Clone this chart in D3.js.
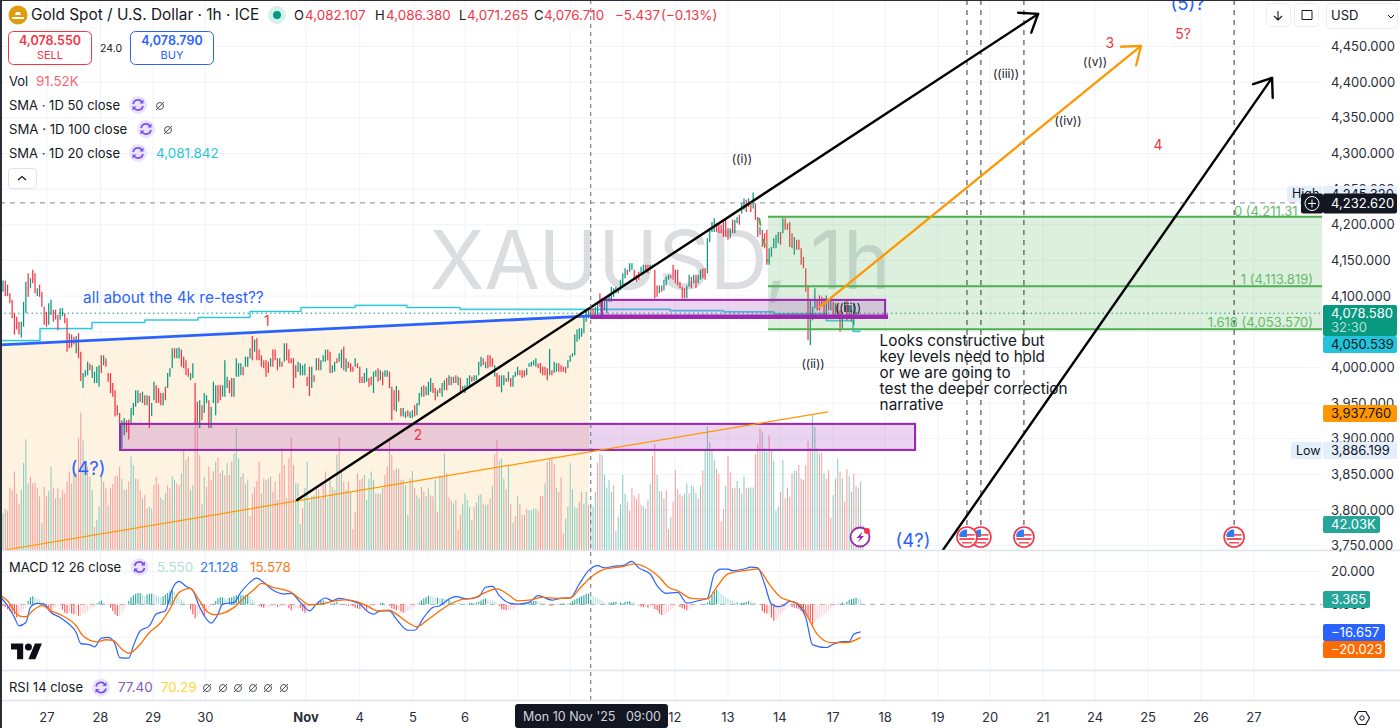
<!DOCTYPE html>
<html><head><meta charset="utf-8">
<script src="https://cdnjs.cloudflare.com/ajax/libs/d3/7.8.5/d3.min.js"></script>
<style>html,body{margin:0;padding:0;background:#fff;overflow:hidden}svg{display:block}text{font-family:Inter,"Noto Sans",sans-serif}</style>
</head><body><svg id="c" width="1400" height="728"></svg>
<script>
const candleHigh=[
4122,4122,4116,4104,4095,4076,4071,4064,4064,4092,
4120,4132,4125,4137,4132,4111,4116,4106,4085,4078,
4090,4095,4081,4081,4074,4083,4083,4076,4069,4048,
4046,4043,4044,4048,4022,3992,3996,4008,4005,4003,
3994,4001,4003,4017,4017,4013,3992,3992,3978,3968,
3947,3936,3926,3929,3926,3927,3943,3950,3968,3968,
3964,3966,3961,3961,3960,3950,3980,3975,3971,3964,
3964,3973,3992,3999,4027,4027,4027,4028,4025,4015,
4010,3999,3992,4006,3978,3952,3954,3947,3964,3961,
3954,3945,3980,3975,3975,3975,3975,4010,3987,3982,
3985,3985,4013,4006,4006,4001,4015,4015,4027,4044,
4039,4041,4025,4017,4010,4010,4008,4013,4025,4025,
4013,4013,4008,4034,4034,4025,4013,4013,4003,4008,
4006,4003,4005,3987,4001,4001,3989,4013,4013,4010,
4017,4025,4025,4022,4003,4008,4013,4020,4025,4029,
4013,4008,4006,4001,4013,4006,4001,3987,3992,3999,
3985,3987,3994,3996,3999,3996,3994,3996,3996,3994,
3973,3968,3974,3968,3943,3943,3938,3940,3938,3940,
3947,3950,3964,3973,3975,3973,3980,3985,3978,3971,
3968,3971,3978,3982,3985,3989,3987,3987,3989,3987,
3985,3974,3975,3985,3989,3987,3989,3989,4008,4015,
4013,4008,4017,4017,4013,4003,3992,3989,3989,3989,
3985,3994,3985,3989,3994,4001,3996,3996,3996,3999,
4006,4008,4010,4013,4006,4006,4001,4001,3999,4026,
3996,4008,4006,4006,4003,4001,4001,4010,4017,4020,
4046,4053,4055,4055,4071,4081,4083,4085,4083,4085,
4092,4104,4097,4094,4097,4101,4113,4111,4113,4111,
4123,4132,4139,4137,4146,4146,4137,4130,4134,4141,
4144,4144,4144,4144,4144,4137,4115,4115,4115,4123,
4127,4130,4130,4144,4137,4137,4120,4113,4111,4115,
4130,4127,4130,4130,4130,4137,4139,4139,4181,4195,
4204,4209,4202,4202,4200,4207,4207,4195,4195,4207,
4207,4211,4214,4230,4237,4235,4237,4230,4245.3,4230,
4211,4197,4193,4188,4193,4167,4169,4181,4186,4190,
4190,4209,4209,4202,4204,4188,4183,4179,4179,4167,
4155,4139,4115,4094,4085,4111,4094,4101,4099,4097,
4101,4094,4099,4092,4090,4087,4080,4076,4092,4094,
4087,4080,4090,4078];
const candleLow=[
4106,4100,4100,4090,4069,4046,4053,4046,4042,4057,
4076,4099,4111,4118,4104,4100,4099,4085,4060,4057,
4060,4074,4064,4067,4052,4067,4072,4062,4022,4027,
4028,4032,4020,4013,3981,3971,3987,3989,3996,3985,
3978,3978,3973,3992,4003,4001,3980,3964,3959,3931,
3933,3895,3886.2,3905,3909,3899,3922,3933,3945,3950,
3952,3950,3947,3947,3915,3932,3954,3950,3950,3947,
3947,3954,3971,3987,3999,4013,4013,4013,4001,3999,
3989,3987,3982,3985,3920,3921,3915,3926,3936,3950,
3915,3915,3950,3933,3950,3954,3959,3959,3971,3964,
3959,3959,3987,3987,3989,3989,4001,4001,4013,4010,
4022,4010,4010,4001,3999,3987,3992,4001,4001,4010,
3996,4001,4001,4008,4010,4006,4006,3971,3985,3994,
3989,3989,3989,3974,3960,3971,3980,3996,3996,3996,
4008,4008,4010,3992,3992,3994,4006,4008,3999,3996,
3994,3999,3994,3994,4001,3999,3978,3978,3978,3980,
3973,3975,3964,3987,3980,3982,3975,3987,3987,3971,
3926,3940,3938,3952,3931,3931,3929,3931,3929,3929,
3931,3933,3947,3959,3959,3961,3961,3966,3964,3954,
3959,3964,3959,3968,3968,3975,3975,3978,3978,3975,
3966,3966,3964,3971,3973,3980,3981,3982,3989,4001,
4003,3999,3999,4001,4001,3987,3973,3973,3965,3975,
3980,3980,3973,3973,3987,3989,3989,3985,3987,3989,
4001,4001,4003,4001,3999,3992,3989,3989,3982,3989,
3989,3992,3994,3994,3994,3994,3992,3999,4008,4015,
4017,4036,4039,4043,4048,4064,4069,4074,4074,4074,
4071,4085,4073,4080,4076,4092,4092,4099,4104,4104,
4108,4113,4125,4130,4134,4137,4123,4120,4123,4130,
4134,4134,4132,4137,4139,4097,4099,4104,4106,4108,
4115,4123,4125,4123,4118,4115,4111,4097,4097,4097,
4113,4111,4118,4111,4118,4123,4125,4123,4132,4176,
4190,4190,4190,4188,4188,4183,4183,4179,4181,4188,
4188,4202,4200,4216,4221,4218,4225,4218,4223,4207,
4183,4186,4169,4167,4144,4144,4155,4167,4167,4174,
4172,4188,4193,4193,4169,4167,4158,4165,4165,4144,
4139,4106,4038,4031,4066,4083,4080,4080,4087,4073,
4069,4080,4080,4073,4073,4069,4050,4055,4078,4066,
4069,4064,4059,4073];
const candleDir=[
"GRRRRRRRGG","GRGRRGRRRR","GGRRRGGRRR","RRGRRGGGRG","GGGRGRRRRR",
"RRGGRRGGGG","RGRGRGGRRR","GRGGGRGGRR","RRGGRRGRGG","RGGGRRGGGR",
"RGGGGRGGGR","GRRRRRRGRR","RGRGRRRRRG","GGGRRGRGRG","GGRRGGRGGR",
"GRRRGRRRGG","RRGGRGRGGR","RRGRRGGRGG","RGGGRGGGRR","GRGGRGRGRG",
"RGGGGRGGGG","RGRRRGRRGG","RGRGGGRRRG","GGGGRRRRRG","RGGRRRRGGG",
"GGGGGGGRRG","GRRGGGGGGG","GGGRGGRRRG","GRRGGRRGRG","GGRRRRRRRG",
"GRGRGGRRGG","GGRRRRRRGR","GGRGGRGRGR","RGRRRGGGGG","RGRRRRGRRR",
"RRRGGGRRRR","GRGRGRRGGR","GRGG"].join("");
const volumes=[
62,69,66,105,101,132,95,78,101,146,186,112,123,112,113,104,90,45,106,90,
99,140,105,87,104,88,101,95,115,132,112,146,129,188,231,184,146,140,123,101,
39,50,73,124,115,104,76,104,111,124,124,140,119,101,102,115,157,143,120,120,
101,87,92,70,73,70,109,123,111,88,84,96,109,104,124,118,112,109,129,168,
151,157,101,109,220,230,160,78,123,106,140,118,132,148,155,129,134,126,146,
126,148,162,204,154,123,129,112,118,57,95,106,116,148,95,120,118,120,123,
98,115,84,129,171,143,87,154,189,143,112,112,44,70,104,148,81,90,92,
104,101,87,109,132,87,120,106,101,160,190,134,115,101,115,98,35,64,129,118,
120,126,84,120,132,118,95,95,95,104,126,141,188,160,134,137,137,118,118,109,
59,120,133,104,92,87,106,98,90,104,92,90,118,64,125,123,162,129,
88,83,78,84,34,59,77,95,84,72,50,72,80,92,94,78,76,77,87,108,
161,185,151,154,120,102,141,77,45,57,91,77,59,59,69,67,67,70,70,66,
91,91,112,148,154,156,144,105,98,122,28,53,73,146,102,72,70,81,98,78,
98,76,73,73,98,146,162,160,126,105,118,98,109,32,56,77,126,94,81,66,
104,92,85,95,76,73,70,85,111,158,178,126,99,98,87,100,35,56,81,134,
102,94,91,95,112,95,108,106,96,87,108,134,169,208,181,169,152,136,128,48,
69,108,158,131,104,105,116,104,95,124,104,105,105,105,161,179,204,199,172,165,
193,167,150,66,73,98,151,87,104,90,129,133,133,143,120,118,143,183,171,227,
207,171,162,164,129,120,134,54,92,120,154,132,120,81,136,124,98,128,108,105,
115,42.03];
const volumeDir=[
"GRRRRRRRGG","GGRRRRRGRR","GGRGRGRRRR","RGRRRGGRGG","RGGGRRGRRR",
"RRGRGRGGGR","RGRRGGRRRG","RGRRGGRRGR","GRGGRRRGGR","RRRGRRGRG",
"RRGGGRGRG","RRRRRGRGRG","RRRRRRGRR","RGGGRGGRGG","GRGRRGGRGG",
"RGRGRGRRRR","RGGGGGRGRG","RRRRRGRRGG","GRGRGGRRGG","RRGRGRGR",
"RGGRRRGGGG","GRGGGRGGRG","RRGGGRGRGR","GRRGRGGGGR","RRGRGRRGRR",
"RGGGGGGRRG","GRGGGRRGGG","GGRGGGGGRR","RRRRRGGRGR","RGGRGRRGRR",
"RRRGGRGGGR","GRGGGGGRRR","RGRRGRGRGG","RGGGRRRGGG","RGGGGRGRRR",
"RGGRRRRRRG","GGRRGRRRGR","GRGRRGRRGR","GG"].join("");
const macdIndex=[-1,2,5,7,10,12,15,18,21,25,28,32,34,38,40,43,46,49,51,55,57,60,64,67,71,74,77,80,83,86,88,91,94,96,101,104,108,111,114,118,123,126,130,134,137,141,144,147,152,156,159,162,165,169,172,177,180,184,188,191,195,198,203,208,211,214,217,222,225,230,234,240,244,248,252,256,260,263,267,271,275,278,283,286,290,295,299,304,308,311,314,317,319,324,327,330,333,336,339,341,344,348,351,354,360,363,367,370,372,375];
const macdValues=[4.3,-0.8,-7.9,-13,-11,-1.8,0.6,0.2,-4.9,-7.9,-11,-17.1,-23.8,-24.6,-25.8,-20.5,-20.1,-24.2,-32.3,-32.7,-25.2,-16.1,-13,-5.9,-3.9,9.4,14,11,8.3,-1.8,-6.9,-11.4,-5.9,0.2,1.2,7.3,13.4,16,13.4,8.7,6.3,6.7,1.2,-3.9,0.2,3.9,2.2,3.7,2.2,0.2,-3.9,-5.9,-3.9,-3.9,-9,-15.7,-15.7,-7.9,-1.8,-0.8,3.3,4.7,3.3,4.7,10.4,11,5.3,0.6,0.2,1.2,5.3,2.6,3.7,3.9,12.4,20.5,23.6,22.2,23.2,23.6,26.2,22.2,18.5,11.4,6.7,7.3,0.8,2.2,3.7,18.5,21.5,21.5,20.5,21.5,22.6,22.2,12.4,0.2,-1.4,-0.8,1.8,-0.8,-7.9,-24.6,-26.2,-24.2,-22.6,-22.6,-18.1,-16.66];
const signalIndex=[-1,2,5,7,10,13,17,21,26,32,35,41,45,48,52,55,60,64,69,73,77,82,85,89,92,96,101,105,110,113,118,126,130,134,139,145,150,155,159,164,169,172,177,181,185,191,195,200,206,210,216,221,225,230,236,242,248,252,257,262,271,276,283,287,291,295,301,308,312,317,324,330,335,340,344,349,352,356,362,369,375];
const signalValues=[5.3,2.2,-3.9,-6.9,-7.5,-3.9,-0.8,-3.9,-6.9,-13,-19.1,-22.8,-21.5,-21.8,-27.2,-29.7,-24.2,-17.1,-11,-2.8,7.3,9.8,4.3,-3.9,-6.3,-5.5,-1.8,3.3,9.3,12.8,10.4,7.3,3.3,-0.2,0.2,2.2,2.8,1.6,-0.8,-3.9,-3.5,-5.9,-11,-13.6,-10,-3.9,-0.2,2.8,3.9,6.7,9.4,5.9,2.2,2.6,4.3,3.7,3.9,9.4,16.5,20.9,23,24.6,20.9,16.5,10.4,8.3,3.7,3.3,10.4,18.5,20.5,21.5,12.4,4.3,2.2,-0.8,-7.9,-18.1,-23.2,-23.2,-20.02];
const histValues=[
-1,-1.6,-3,-4,-5,-6,-8,-6,-5,-3,-2,2,4.4,5,4.4,3.6,3,1,-0.6,-2,-3,-3.6,-3,-2,-1,-0.6,-3,-5,-5.6,-5,-5.6,-6,-6,-7,-7,-5.6,-5,-4.4,-3,-2.4,-1.6,0.6,1.6,2.4,1,0.6,-0.4,-2,-4,-6,-7,-7,-5,-3,-1,2,4.4,5.6,6.4,7,7,5.6,5,6,6.4,6.6,6,5.6,5,4.4,5,6,7,8,8.6,7.6,6.4,5,3,1.6,0.4,-0.4,-3,-6,-8.4,-7,-6,-6,-7,-5.6,-3,-1,0.4,2,3.6,4.4,4.4,4,3.6,4,4.4,5,5.6,5.6,5.6,5.6,5.6,6,5,3,1.6,0.4,-1,-1.6,-2,-1.6,-1.6,-1.6,-1.2,-1.2,-1.6,-1.6,-1,-1,-1,-2.4,-3.6,-2.4,-2,-2,-2.4,-4,-5,-2.4,-1.2,-0.8,-0.4,0.6,1.6,2,2.4,2,1.6,1,0.8,0.8,1.6,1,0.4,-0.4,-0.6,-1,-0.8,-1.2,-2,-2.4,-2.8,-2.4,-2.4,-3.2,-2.8,-1.6,-1.2,-0.8,-0.4,0.6,1,0.6,0.2,-0.8,-2.4,-3,-3.6,-3.2,-4.4,-5,-5,-4,-3.2,-2.4,-1.6,-0.6,1.2,2.4,3.6,4.4,5.2,5,4.4,4,4,3.6,3.6,3.4,3,
3,2,1.6,1.2,1,0.8,0.4,0.2,0.2,1,1,0.8,1.2,1.6,2.4,3.2,3.6,3.2,2.8,2.4,1.6,0.6,-1.2,-2.8,-3.2,-3.6,-3.6,-3.2,-2.8,-2,-1.2,-0.4,0.4,0.6,0.8,1,1.6,2,2,1.6,1.2,0.8,0.4,-0.2,-0.8,-1,-0.4,0.2,0.4,0.6,0.6,0.4,0.4,0.8,2,2.8,3.6,4.4,5,5.6,6.4,6.6,5.6,5,4.4,3.6,3,2,1,0.6,1,1.2,1.4,1.6,0.6,1,0.8,1.4,1.6,2,1.8,1.2,0.2,-0.6,-1.4,-1.8,-1.6,-2,-1.6,-1.6,-2.8,-3.6,-5.6,-6.4,-6.4,-5.6,-4.4,-3.2,-2,-1,-0.6,-1.6,-2.4,-2.8,-3.6,-2.8,-2,-1.4,-1,-0.6,-0.4,-0.2,0.4,1,2.4,5.6,8,9,7.6,6.4,5.6,4.4,3.6,2.8,2,1.2,1.2,0.6,1,1.2,1.4,2,1.6,1.2,1,0.6,-0.4,-4,-5,-5.6,-5.6,-8,-10,-9.6,-7.6,-6,-4.4,-3.2,-1.6,-0.6,-1.6,-2,-2.4,-2.8,-4,-5.6,-6,-7.6,-9.6,-12.4,-11,-9,-7.6,-7,-6,-5,-3.6,-2.4,-1.2,-0.4,0.2,0.6,1.2,0.4,1.6,2.8,3.2,3.6,4,3.6,3.4];
const smaIndex=[-2,16.2,38.9,62,85.3,108,130.3,154,176.6,199.8,291.7,315,337,360,371.7,375];
const smaValues=[4037.7,4054.5,4063,4066.5,4070,4078.4,4084,4087,4084,4081.5,4079.5,4078,4075,4065.5,4050.5,4050.5];
const priceTicks=[4450,4400,4350,4300,4250,4200,4150,4100,4050,4000,3950,3900,3850,3800,3750];
const priceLabelsHidden=[4050];
const macdTicks=[20,0,-20];
const dayTickIndex=[19.2,42.6,65.6,88.5,132.5,156,179.3,202,225.2,248,271,293.8,317,339.7,363,385.7,408.8,431.6,454.7,477.5,500.7,523.8,547];
const dayTickLabels=["27","28","29","30","Nov","4","5","6","","","","12","13","14","17","18","19","20","21","24","25","26","27"];
const fibLevels=[4211.31,4113.819,4053.57];
const fibNames=["0 (4,211.31","1 (4,113.819)","1.618 (4,053.570)"];
const eventIndex=[538.3,446.4,427.6,421.5];
const waveLabels=[["((i))",323.1,4292.4],["((ii))",354.2,4004.9],["((iii))",438.6,4411.6],["((iv))",465.7,4345.7],["((v))",477.5,4428.4],["((iii))",369.5,4083.4]];
const redLabels=[["1",115.4,4065.2],["2",181.5,3905],["3",484,4455],["5?",516,4467.7],["4",505,4312]];
const blueLabels=[["(4?)",37.2,3857.7],["(4?)",397.9,3756.7],["(5)?",518,4509.7]];
const noteLines=["Looks constructive but","key levels need to hold","or we are going to","test the deeper correction","narrative"];
const notePrices=[4037.2,4014.7,3992.3,3969.9,3947.4];
const lastPrice=4076;

const svg=d3.select("#c");
const x=d3.scaleLinear([0,547],[3,1254]);
const y=d3.scaleLinear([3750,4450],[545.7,46.5]);
const yVol=d3.scaleLinear([0,100],[550,490.5]);
const yM=d3.scaleLinear([-20,20],[637.3,571.5]);
const UP="#089981",DN="#f23645",INK="#131722",GRID="#f0f3fa",SEP="#e0e3eb";
const ALL=candleHigh.map((_,i)=>i);

const defs=svg.append("defs");
defs.append("clipPath").attr("id","main").append("rect").attr("x",0).attr("y",0).attr("width",1322).attr("height",550);
defs.append("clipPath").attr("id","pane").append("rect").attr("x",2).attr("y",550).attr("width",1320).attr("height",120);
svg.append("rect").attr("width",1400).attr("height",728).attr("fill","#fff");

// grid
const grid=svg.append("g");
dayTickIndex.forEach(d=>grid.append("line").attr("x1",x(d)).attr("x2",x(d)).attr("y1",0).attr("y2",700).attr("stroke",GRID));
priceTicks.forEach(p=>grid.append("line").attr("x1",0).attr("x2",1322).attr("y1",y(p)).attr("y2",y(p)).attr("stroke",GRID));
macdTicks.filter(d=>d).forEach(p=>grid.append("line").attr("x1",0).attr("x2",1322).attr("y1",yM(p)).attr("y2",yM(p)).attr("stroke",GRID));

const main=svg.append("g").attr("clip-path","url(#main)");
main.append("text").attr("x",x(186.5)).attr("y",y(4110)).attr("font-size",80.5).attr("fill","#dcdde0").text("XAUUSD, 1h");

// beige region below the blue trend line
const blueLine=[[-1.3,4031.6],[257.1,4072.2]];
main.append("path").attr("fill","#fef2e0").attr("d",d3.line().x(d=>x(d[0])).y(d=>y(d[1]))([blueLine[0],[256.2,4072.1],[256.2,3700],[-1.3,3700]])+"Z");

// volume
main.append("g").selectAll("line").data(volumes).join("line")
 .attr("x1",(d,i)=>x(i)).attr("x2",(d,i)=>x(i)).attr("y1",yVol(0)).attr("y2",d=>yVol(d))
 .attr("stroke",(d,i)=>volumeDir[i]==="G"?"#86cbbf":"#f99b9b").attr("stroke-width",1);

// SMA
const sma=d3.line().curve(d3.curveStepAfter).x((d,i)=>x(smaIndex[i])).y(d=>y(d));
main.append("path").attr("d",sma(smaValues)).attr("fill","none").attr("stroke","#26c6da").attr("stroke-width",2.2).attr("opacity",.4);
main.append("path").attr("d",sma(smaValues)).attr("fill","none").attr("stroke","#26c6da").attr("stroke-width",1);

// last price dotted
main.append("line").attr("x1",0).attr("x2",1322).attr("y1",y(lastPrice)).attr("y2",y(lastPrice)).attr("stroke",UP).attr("stroke-dasharray","1.5 3");

// candles
main.append("g").selectAll("line").data(ALL).join("line")
 .attr("x1",i=>x(i)).attr("x2",i=>x(i)).attr("y1",i=>y(candleHigh[i])).attr("y2",i=>y(candleLow[i]))
 .attr("stroke",i=>candleDir[i]==="G"?UP:DN).attr("stroke-width",1.25);

// fib
main.append("rect").attr("x",x(334.5)).attr("width",x(576.8)-x(334.5)).attr("y",y(fibLevels[0])).attr("height",y(fibLevels[2])-y(fibLevels[0])).attr("fill","rgba(76,175,80,.19)");
fibLevels.forEach(p=>main.append("line").attr("x1",x(334.5)).attr("x2",x(576.8)).attr("y1",y(p)).attr("y2",y(p)).attr("stroke","#4caf50").attr("stroke-width",2));
fibNames.forEach((t,i)=>main.append("text").attr("x",i?1313:1234).attr("y",y(fibLevels[i])-(i?7:-1)).attr("dy",i?".35em":"-.1em").attr("text-anchor",i?"end":"start").attr("font-size",13).attr("fill","#66bb6a").text(t));
main.append("line").attr("x1",x(330.6)).attr("x2",x(334.5)).attr("y1",y(4209.5)).attr("y2",y(4148)).attr("stroke","#4caf50").attr("stroke-width",2).attr("stroke-dasharray","8 13");

// purple zones
function zone(a,b,top,bot){main.append("rect").attr("x",x(a)).attr("width",x(b)-x(a)).attr("y",y(top)).attr("height",y(bot)-y(top)).attr("fill","rgba(156,39,176,.2)").attr("stroke","#9c27b0").attr("stroke-width",2.1);}
zone(51.2,398.8,3920.8,3884.3);
zone(261.7,385.7,4094.7,4071.2);
main.append("line").attr("x1",x(256.7)).attr("x2",x(387)).attr("y1",y(4071.2)).attr("y2",y(4071.2)).attr("stroke","#9c27b0").attr("stroke-width",4.5);

// thin orange
main.append("line").attr("x1",x(.9)).attr("x2",x(360.7)).attr("y1",y(3744)).attr("y2",y(3937.76)).attr("stroke","#ff9800").attr("stroke-width",1.2);
// blue trend line
main.append("line").attr("x1",x(blueLine[0][0])).attr("x2",x(blueLine[1][0])).attr("y1",y(blueLine[0][1])).attr("y2",y(blueLine[1][1])).attr("stroke","#2962ff").attr("stroke-width",2.8);

// verticals
eventIndex.forEach(d=>main.append("line").attr("x1",x(d)).attr("x2",x(d)).attr("y1",0).attr("y2",525).attr("stroke","#333").attr("stroke-dasharray","5 5"));

// arrows
function arrow(a,b,color,w){
 const x1=x(a[0]),y1=y(a[1]),x2=x(b[0]),y2=y(b[1]),t=Math.atan2(y2-y1,x2-x1),L=20;
 const g=main.append("g").attr("fill","none").attr("stroke",color).attr("stroke-width",w).attr("stroke-linecap","round").attr("stroke-linejoin","round");
 g.append("line").attr("x1",x1).attr("y1",y1).attr("x2",x2).attr("y2",y2);
 g.append("path").attr("d",`M${x2+L*Math.cos(t+2.5)},${y2+L*Math.sin(t+2.5)}L${x2},${y2}L${x2+L*Math.cos(t-2.5)},${y2+L*Math.sin(t-2.5)}`);
}
arrow([128.6,3814.2],[452.6,4495.7],"#000",2.4);
arrow([357.2,4084.8],[497.6,4450.8],"#ff9800",2.3);
arrow([411,3744],[554.9,4406],"#000",2.4);

// annotation text
waveLabels.forEach(d=>main.append("text").attr("x",x(d[1])).attr("y",y(d[2])).attr("dy",".35em").attr("text-anchor","middle").attr("font-size",12).attr("fill","#131722").text(d[0]));
redLabels.forEach(d=>main.append("text").attr("x",x(d[1])).attr("y",y(d[2])).attr("dy",".35em").attr("text-anchor","middle").attr("font-size",14).attr("fill","#f23645").text(d[0]));
blueLabels.forEach(d=>main.append("text").attr("x",x(d[1])).attr("y",y(d[2])).attr("dy",".35em").attr("text-anchor","middle").attr("font-size",18.5).attr("fill","#2962ff").text(d[0]));
main.append("text").attr("x",x(35)).attr("y",y(4097.5)).attr("dy",".35em").attr("font-size",15.4).attr("fill","#2962ff").text("all about the 4k re-test??");
noteLines.forEach((t,i)=>main.append("text").attr("x",x(383.3)).attr("y",y(notePrices[i])).attr("dy",".35em").attr("font-size",15.3).attr("fill","#131722").text(t));

// event icons
function flag(cx,cy){
 const g=svg.append("g").attr("transform",`translate(${cx},${cy})`);
 g.append("circle").attr("r",10).attr("fill","#fff").attr("stroke","#f23645").attr("stroke-width",1.6);
 g.append("path").attr("d","M-7.5,-3H7.5V-1.2H-7.5ZM-7.5,1H7.5V3H-7.5ZM-5,5H5V6.5H-5Z").attr("fill","#f7525f");
 g.append("path").attr("d","M-7.5,-1L-7.5,-3A7.6,7.6 0 0 1 0,-7.5V0H-7.5Z").attr("fill","#2e7cf0");
}
eventIndex.forEach(d=>flag(x(d),537));
const bolt=svg.append("g").attr("transform","translate(860,537)");
bolt.append("circle").attr("r",9.5).attr("fill","#fff").attr("stroke","#9c27b0").attr("stroke-width",1.8);
bolt.append("path").attr("d","M2.5,-5.5L-3.5,1H0L-2,5.5L4,-1H0.6Z").attr("fill","#9c27b0");
bolt.append("circle").attr("cx",7).attr("cy",-6).attr("r",3).attr("fill","#f23645");

// MACD pane
const pane=svg.append("g").attr("clip-path","url(#pane)");
pane.append("line").attr("x1",0).attr("x2",1322).attr("y1",yM(0)).attr("y2",yM(0)).attr("stroke","#a8abb4").attr("stroke-dasharray","5 5");
pane.append("g").selectAll("line").data(histValues).join("line")
 .attr("x1",(d,i)=>x(i)).attr("x2",(d,i)=>x(i)).attr("y1",yM(0)).attr("y2",d=>yM(d)).attr("stroke-width",1.1)
 .attr("stroke",(d,i)=>{const p=i?histValues[i-1]:0;return d>=0?(d>=p?"#26a69a":"#b2dfdb"):(d<p?"#ff5252":"#ffcdd2");});
const mLine=idx=>d3.line().curve(d3.curveMonotoneX).x((d,i)=>x(idx[i])).y(d=>yM(d));
pane.append("path").attr("d",mLine(macdIndex)(macdValues)).attr("fill","none").attr("stroke","#2962ff").attr("stroke-width",1.2);
pane.append("path").attr("d",mLine(signalIndex)(signalValues)).attr("fill","none").attr("stroke","#ff6d00").attr("stroke-width",1.3);

// tv logo
svg.append("path").attr("transform","translate(11,640) scale(.87)").attr("d","M14 22H7V11H0V4h14v18zM28 22h-8l7.5-18h8L28 22z").attr("fill","#0b0e14");
svg.append("circle").attr("cx",11+20*.87).attr("cy",640+8*.87).attr("r",3.5).attr("fill","#0b0e14");

// crosshair
svg.append("line").attr("x1",x(257)).attr("x2",x(257)).attr("y1",0).attr("y2",704).attr("stroke","#6a6d78").attr("stroke-dasharray","4 4");
svg.append("line").attr("x1",0).attr("x2",1322).attr("y1",y(4230.7)).attr("y2",y(4230.7)).attr("stroke","#6a6d78").attr("stroke-dasharray","5 5").attr("opacity",.8);

// separators
[[0,1400,550],[0,1400,670],[0,1400,700]].forEach(d=>svg.append("line").attr("x1",d[0]).attr("x2",d[1]).attr("y1",d[2]+.5).attr("y2",d[2]+.5).attr("stroke",SEP).attr("stroke-width",1.4));
svg.append("rect").attr("x",1322).attr("y",0).attr("width",78).attr("height",549).attr("fill","#fff");
svg.append("rect").attr("x",1322).attr("y",552).attr("width",78).attr("height",117).attr("fill","#fff");
svg.append("rect").attr("x",0).attr("y",0).attr("width",2).attr("height",728).attr("fill","#2a2e39");
svg.append("rect").attr("x",0).attr("y",0).attr("width",1400).attr("height",1).attr("fill","#2a2e39");

function T(t,px,py,o={}){return svg.append("text").attr("x",px).attr("y",py).attr("dy",".35em").attr("font-size",o.s||13).attr("fill",o.c||INK).attr("text-anchor",o.a||"start").attr("font-weight",o.w||400).text(t);}
// price axis
priceTicks.filter(p=>!priceLabelsHidden.includes(p)).forEach(p=>T(d3.format(",.3f")(p),1331,y(p),{s:13,c:"#2a2e39"}));
macdTicks.filter(p=>p>=0).forEach(p=>T(d3.format(".3f")(p),1331,yM(p),{s:13,c:"#2a2e39"}));
// day axis
dayTickLabels.forEach((t,i)=>{if(t)T(t,x(dayTickIndex[i]),717,{a:"middle",s:13,c:"#2a2e39",w:t==="Nov"?700:400});});

function box(px,py,w,h,c,txt,tc,fs){svg.append("rect").attr("x",px).attr("y",py).attr("width",w).attr("height",h).attr("rx",2).attr("fill",c);if(txt)T(txt,px+8,py+h/2,{s:fs||13,c:tc||"#fff"});}
box(1287,186,35,16,"#e3effd"); T("High",1292,194,{s:12.5});
box(1323,186,74,16,"#e3effd","4,245.320",INK);
box(1323,193.5,74,20,"#131722","4,232.620","#fff");
svg.append("rect").attr("x",1301).attr("y",193.5).attr("width",22).attr("height",20).attr("rx",2).attr("fill","#131722");
svg.append("circle").attr("cx",1312).attr("cy",203.5).attr("r",7).attr("fill","none").attr("stroke","#fff");
svg.append("path").attr("d","M1312,199.5V207.5M1308,203.5H1316").attr("stroke","#fff");
box(1323,305,74,31,UP);
T("4,078.580",1331,313,{c:"#fff"}); T("32:30",1331,327,{c:"#b2dfd6"});
box(1323,336,74,17,"#22c4dc","4,050.539","#0b1a20");
box(1323,405,74,17,"#ff9800","3,937.760","#1c1200");
box(1291,442,31,17,"#e3effd"); T("Low",1296,450.5,{s:12.5});
box(1323,442,74,17,"#e3effd","3,886.199",INK);
box(1323,516,57,17,"#26a69a","42.03K");
box(1323,591,47,17,"#26a69a","3.365");
box(1323,624,62,17,"#2962ff","\u221216.657");
box(1323,641,62,17,"#ff6d00","\u221220.023");
// time label
svg.append("rect").attr("x",515).attr("y",704).attr("width",153).attr("height",24).attr("rx",3).attr("fill","#131722");
T("Mon 10 Nov '25   09:00",523,717,{c:"#d1d4dc",s:12.5}).style("white-space","pre");
// hex settings
svg.append("path").attr("d",d3.range(6).map((i,k)=>(k?"L":"M")+(1362+7.5*Math.cos(i*Math.PI/3))+","+(718+7.5*Math.sin(i*Math.PI/3))).join("")+"Z").attr("fill","none").attr("stroke",INK).attr("stroke-width",1.2);
svg.append("circle").attr("cx",1362).attr("cy",718).attr("r",2.2).attr("fill","none").attr("stroke",INK);
// top right buttons
[[1266,24],[1294,24],[1326,71]].forEach(d=>svg.append("rect").attr("x",d[0]+.5).attr("y",3.5).attr("width",d[1]).attr("height",d[0]>1300?25:23).attr("rx",4).attr("fill","#fff").attr("stroke","#eceef3"));
svg.append("path").attr("d","M1278,11V20M1274,16L1278,20L1282,16").attr("fill","none").attr("stroke",INK).attr("stroke-width",1.1);
svg.append("path").attr("d","M1302,11.5V10.5H1312V11.5M1302,18V19.5H1312V18M1302,11.5V18M1312,11.5V18").attr("fill","none").attr("stroke",INK);
T("USD",1331,15.5,{s:13});
svg.append("path").attr("d","M1388,15L1391,18L1394,15").attr("fill","none").attr("stroke",INK);

// legend
svg.append("circle").attr("cx",18).attr("cy",15).attr("r",9.5).attr("fill","#e09c0c");
svg.append("path").attr("d","M12,19H24V17H12ZM15,15H21L20,12H16Z").attr("fill","#fff");
T("Gold Spot / U.S. Dollar \u00b7 1h \u00b7 ICE",31,15,{s:15.4});
svg.append("circle").attr("cx",277).attr("cy",15).attr("r",9).attr("fill","#d6f0ea");
svg.append("circle").attr("cx",277).attr("cy",15).attr("r",4).attr("fill",UP);
[["O",294],["H",375],["L",459],["C",534]].forEach(d=>T(d[0],d[1],15,{s:13}));
[["4,082.107",305],["4,086.380",386],["4,071.265",467],["4,076.710",544],["\u22125.437",615],["(\u22120.13%)",661]].forEach(d=>T(d[0],d[1],15,{s:13.4,c:DN}));
function tradeBox(px,c,v,l){svg.append("rect").attr("x",px+.5).attr("y",31.5).attr("width",83).attr("height",33).attr("rx",5).attr("fill","#fff").attr("stroke",c);
 T(v,px+42,41,{a:"middle",s:12.5,c,w:600});T(l,px+42,55,{a:"middle",s:11,c});}
tradeBox(8,"#f23645","4,078.550","SELL");tradeBox(130,"#2962ff","4,078.790","BUY");
T("24.0",100,48,{s:10.5});
T("Vol",9,81,{s:13});T("91.52K",36,81,{s:13.4,c:"#f7666f"});
function loop(cx,cy){svg.append("circle").attr("cx",cx).attr("cy",cy).attr("r",9).attr("fill","#e9e4fb");
 svg.append("path").attr("d",`M${cx-5},${cy-1}A5,5 0 0 1 ${cx+4},${cy-3}M${cx+5},${cy+1}A5,5 0 0 1 ${cx-4},${cy+3}`).attr("fill","none").attr("stroke","#7a4df0").attr("stroke-width",1.6);
 svg.append("path").attr("d",`M${cx+5.5},${cy-5.5}V${cy-1.5}H${cx+1.5}ZM${cx-5.5},${cy+5.5}V${cy+1.5}H${cx-1.5}Z`).attr("fill","#7a4df0");}
function slashed(cx,cy){svg.append("circle").attr("cx",cx).attr("cy",cy).attr("r",3.5).attr("fill","none").attr("stroke","#50535e");svg.append("line").attr("x1",cx-4).attr("x2",cx+4).attr("y1",cy+4).attr("y2",cy-4).attr("stroke","#50535e");}
T("SMA \u00b7 1D 50 close",9,105);loop(138,105);slashed(160,106);
T("SMA \u00b7 1D 100 close",9,129,{s:13.2});loop(146,129);slashed(168,130);
T("SMA \u00b7 1D 20 close",9,153);loop(138,153);T("4,081.842",156,153,{c:"#26c6da",s:13.4});
svg.append("rect").attr("x",8.5).attr("y",168.5).attr("width",28).attr("height",20).attr("rx",3).attr("fill","#fff").attr("stroke",SEP);
svg.append("path").attr("d","M18,180L22,176.5L26,180").attr("fill","none").attr("stroke",INK).attr("stroke-width",1.2);
T("MACD 12 26 close",9,567);loop(139.5,567);
T("5.550",157,567,{c:"#aee0d8",s:13.4});T("21.128",200,567,{c:"#3179f5",s:13.4});T("15.578",250,567,{c:"#ff7a1a",s:13.4});
T("RSI 14 close",9,687.5);loop(101,687.5);
T("77.40",118,687.5,{c:"#7e57c2",s:13.4});T("70.29",161,687.5,{c:"#fdd835",s:13.4});
[207,223,238,253,268,284].forEach(c=>slashed(c,688));
</script></body></html>
